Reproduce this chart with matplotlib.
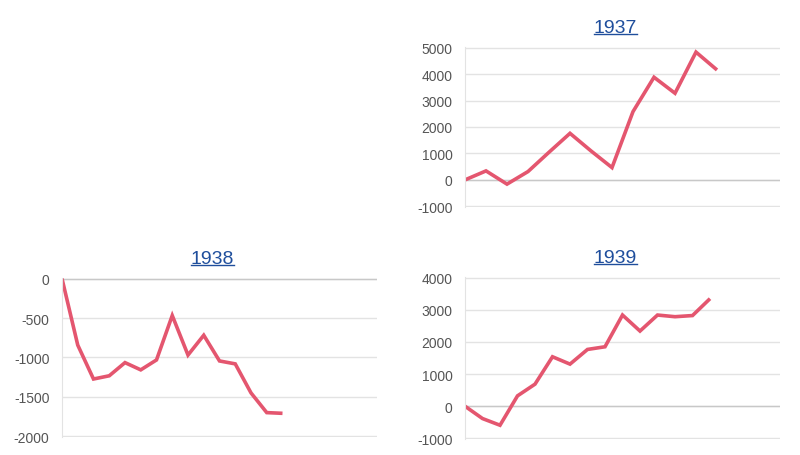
import numpy as np
import matplotlib.pyplot as plt
from matplotlib.lines import Line2D

plt.rcParams['font.family'] = ['Liberation Sans', 'DejaVu Sans']
plt.rcParams['axes.unicode_minus'] = False

# yearly series (one point per period)
vals_1937 = [0, 340, -160, 315, 1045, 1760, 1095, 465, 2580, 3880, 3275, 4830, 4155]
vals_1938 = [0, -843, -1273, -1232, -1065, -1157, -1031, -468, -969, -718,
             -1044, -1081, -1449, -1699, -1708]
vals_1939 = [0, -384, -592, 322, 686, 1538, 1309, 1766, 1849, 2836, 2338,
             2836, 2784, 2820, 3345]

line_color = '#e4566f'
grid_color = '#e3e3e3'
link_color = '#1f4e9c'

panels = [
    ('1937', vals_1937, [0.58125, 0.5439, 0.39375, 0.3509], 15, (-1000, 5000), 1000),
    ('1938', vals_1938, [0.0775, 0.0395, 0.39375, 0.3487], 20, (-2000, 0), 500),
    ('1939', vals_1939, [0.58125, 0.0351, 0.39375, 0.3553], 18, (-1000, 4000), 1000),
]

fig = plt.figure(figsize=(8, 4.56), dpi=100)
titles = []
for title, vals, rect, xmax, ylim, step in panels:
    ax = fig.add_axes(rect)
    ax.plot(np.arange(len(vals)), vals, color=line_color, lw=2.6,
            solid_joinstyle='miter', solid_capstyle='butt')
    ax.set_xlim(0, xmax)
    pad = (ylim[1] - ylim[0]) * 0.004
    ax.set_ylim(ylim[0] - pad, ylim[1] + pad)
    ax.set_yticks(np.arange(ylim[0], ylim[1] + 1, step))
    ax.set_xticks([])
    ax.grid(axis='y', color=grid_color, lw=1)
    ax.axhline(0, color='#c8c8c8', lw=1, zorder=1)
    for s in ['top', 'right', 'bottom']:
        ax.spines[s].set_visible(False)
    ax.spines['left'].set_color(grid_color)
    ax.tick_params(axis='y', length=0, pad=9, labelsize=10, labelcolor='#555555')
    ax.set_axisbelow(True)
    t = ax.set_title(title, fontsize=14, color=link_color, pad=11, x=0.478)
    titles.append(t)

# underline the titles like links
fig.canvas.draw()
r = fig.canvas.get_renderer()
for t in titles:
    bb = t.get_window_extent(r).transformed(fig.transFigure.inverted())
    y = bb.y0 + 0.004
    fig.add_artist(Line2D([bb.x0, bb.x1], [y, y], color=link_color, lw=1,
                          transform=fig.transFigure))

plt.savefig('out.png', dpi=100)
